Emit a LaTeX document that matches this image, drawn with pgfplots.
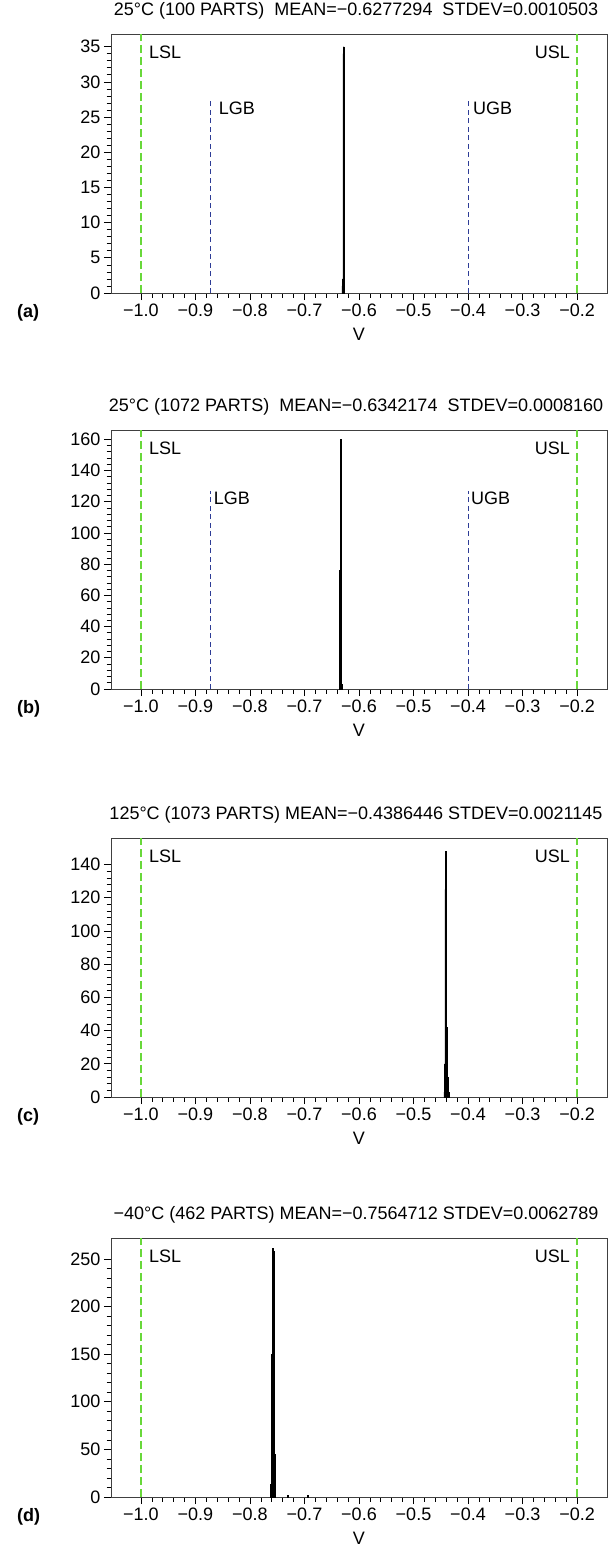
\documentclass[border=0pt]{standalone}
\usepackage{pgfplots}
\pgfplotsset{compat=1.18}
\usepackage{fontspec}
\setmainfont{Liberation Sans}
\definecolor{specgreen}{RGB}{104,216,58}
\definecolor{gbblue}{RGB}{45,60,150}
\newcommand{\fs}{\fontsize{18}{21}\selectfont}
\tikzset{lab/.style={font=\fs, inner sep=0pt}}
\pgfplotsset{
 panel/.style={
  scale only axis, width=496pt, height=259pt,
  xmin=-1.055, xmax=-0.145, ymin=0,
  xtick={-1,-0.9,-0.8,-0.7,-0.6,-0.5,-0.4,-0.3,-0.2},
  xticklabels={−1.0,−0.9,−0.8,−0.7,−0.6,−0.5,−0.4,−0.3,−0.2},
  minor x tick num=4, minor y tick num=4,
  tick align=outside, tick pos=left,
  major tick length=7pt, minor tick length=4.5pt,
  tick style={black, line width=0.7pt},
  axis line style={black!75, line width=0.9pt},
  ticklabel style={font=\fs},
  label style={font=\fs},
  xlabel style={yshift=-5pt},
  title style={font=\fs, at={(0.5,1)}, anchor=base, yshift=13pt, xshift=-3pt},
  xlabel={V},
  /pgf/number format/assume math mode=true,
  clip=false,
 },
 spec/.style={specgreen, line width=2.2pt, dash pattern=on 8pt off 4pt},
 gb/.style={gbblue, line width=1pt, dash pattern=on 5pt off 3.5pt},
 hist/.style={ybar interval, fill=black, draw=black, line width=0.3pt},
}
\begin{document}
\begin{tikzpicture}
\useasboundingbox (0,0) rectangle (612pt,-1547pt);
% ---------------- (a)
\begin{axis}[panel, at={(111pt,-34pt)}, anchor=north west,
  ymax=36.8, ytick={0,5,...,35},
  title={25°C (100 PARTS)~ MEAN=−0.6277294~ STDEV=0.0010503}]
\addplot[hist] coordinates {(-0.6315,1) (-0.6305,2) (-0.6295,34) (-0.6285,35) (-0.6275,28) (-0.6265,0)};
\addplot[spec] coordinates {(-1,0) (-1,36.8)};
\addplot[spec] coordinates {(-0.2,0) (-0.2,36.8)};
\addplot[gb] coordinates {(-0.872,0) (-0.872,27.3)};
\addplot[gb] coordinates {(-0.40,0) (-0.40,27.3)};
\node[lab, anchor=west, xshift=8pt, yshift=-18pt] at (axis cs:-1,36.8) {LSL};
\node[lab, anchor=east, xshift=-7pt, yshift=-18pt] at (axis cs:-0.2,36.8) {USL};
\node[lab, anchor=west, xshift=8pt] at (axis cs:-0.872,26.3) {LGB};
\node[lab, anchor=west, xshift=5pt] at (axis cs:-0.40,26.3) {UGB};
\node[lab, anchor=base west, xshift=-94pt, yshift=-24pt] at (rel axis cs:0,0) {\textbf{(a)}};
\end{axis}
% ---------------- (b)
\begin{axis}[panel, at={(111pt,-430pt)}, anchor=north west,
  ymax=166, ytick={0,20,...,160},
  title={25°C (1072 PARTS)~ MEAN=−0.6342174~ STDEV=0.0008160}]
\addplot[hist] coordinates {(-0.6365,4) (-0.6355,76) (-0.6345,160) (-0.6335,74) (-0.6325,3) (-0.6315,0)};
\addplot[spec] coordinates {(-1,0) (-1,166)};
\addplot[spec] coordinates {(-0.2,0) (-0.2,166)};
\addplot[gb] coordinates {(-0.872,0) (-0.872,127)};
\addplot[gb] coordinates {(-0.40,0) (-0.40,127)};
\node[lab, anchor=west, xshift=8pt, yshift=-18pt] at (axis cs:-1,166) {LSL};
\node[lab, anchor=east, xshift=-7pt, yshift=-18pt] at (axis cs:-0.2,166) {USL};
\node[lab, anchor=west, xshift=3pt] at (axis cs:-0.872,122) {LGB};
\node[lab, anchor=west, xshift=3pt] at (axis cs:-0.40,122) {UGB};
\node[lab, anchor=base west, xshift=-94pt, yshift=-24pt] at (rel axis cs:0,0) {\textbf{(b)}};
\end{axis}
% ---------------- (c)
\begin{axis}[panel, at={(111pt,-838pt)}, anchor=north west,
  ymax=156, ytick={0,20,...,140},
  title={125°C (1073 PARTS) MEAN=−0.4386446 STDEV=0.0021145}]
\addplot[hist] coordinates {(-0.4445,3) (-0.4435,20) (-0.4425,125) (-0.4415,148) (-0.4405,140) (-0.4395,42) (-0.4385,40) (-0.4375,12) (-0.4365,3) (-0.4355,0)};
\addplot[spec] coordinates {(-1,0) (-1,156)};
\addplot[spec] coordinates {(-0.2,0) (-0.2,156)};
\node[lab, anchor=west, xshift=8pt, yshift=-18pt] at (axis cs:-1,156) {LSL};
\node[lab, anchor=east, xshift=-7pt, yshift=-18pt] at (axis cs:-0.2,156) {USL};
\node[lab, anchor=base west, xshift=-94pt, yshift=-24pt] at (rel axis cs:0,0) {\textbf{(c)}};
\end{axis}
% ---------------- (d)
\begin{axis}[panel, at={(111pt,-1238pt)}, anchor=north west,
  ymax=272, ytick={0,50,...,250},
  title={−40°C (462 PARTS) MEAN=−0.7564712 STDEV=0.0062789}]
\addplot[hist] coordinates {(-0.7625,13) (-0.7615,13) (-0.7605,150) (-0.7595,157) (-0.7585,261) (-0.7575,258) (-0.7565,47) (-0.7555,45) (-0.7545,4) (-0.7535,0)};
\addplot[hist] coordinates {(-0.7315,2) (-0.7295,0)};
\addplot[hist] coordinates {(-0.6955,2) (-0.6935,0)};
\addplot[spec] coordinates {(-1,0) (-1,272)};
\addplot[spec] coordinates {(-0.2,0) (-0.2,272)};
\node[lab, anchor=west, xshift=8pt, yshift=-18pt] at (axis cs:-1,272) {LSL};
\node[lab, anchor=east, xshift=-7pt, yshift=-18pt] at (axis cs:-0.2,272) {USL};
\node[lab, anchor=base west, xshift=-94pt, yshift=-24pt] at (rel axis cs:0,0) {\textbf{(d)}};
\end{axis}
\end{tikzpicture}
\end{document}
